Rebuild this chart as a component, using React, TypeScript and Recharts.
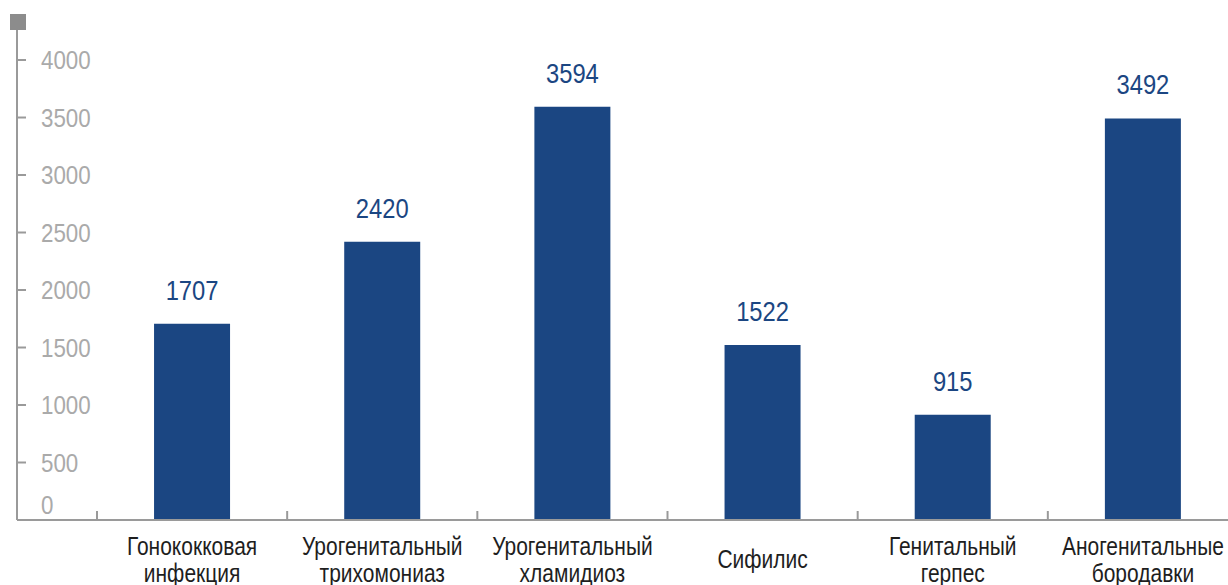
import React from "react";
import { Bar, BarChart, LabelList, XAxis, YAxis } from "recharts";

const categories = [
  "Гонококковая\nинфекция",
  "Урогенитальный\nтрихомониаз",
  "Урогенитальный\nхламидиоз",
  "Сифилис",
  "Генитальный\nгерпес",
  "Аногенитальные\nбородавки",
];
const cases = [1707, 2420, 3594, 1522, 915, 3492];
const yTicks = [0, 500, 1000, 1500, 2000, 2500, 3000, 3500, 4000];

const data = categories.map((name, i) => ({ name, value: cases[i] }));

// no narrow face installed: squeeze Liberation Sans horizontally instead
const FONT = "'Liberation Sans', Arial, sans-serif";
const BAR = "#1b4682";
const AXIS = "#9a9a9a";

function YTick(props: any) {
  const { x, y, payload } = props;
  const isZero = payload.value === 0;
  const ty = isZero ? y - 15 : y;
  return (
    <g>
      {!isZero && <line x1={x} x2={x + 9} y1={y} y2={y} stroke={AXIS} strokeWidth={2} />}
      <text
        transform={`translate(${x + 24},${ty}) scale(0.86,1)`}
        dy="0.36em"
        fill="#aaaaaa"
        fontSize={26}
        fontFamily={FONT}
        textAnchor="start"
      >
        {payload.value}
      </text>
    </g>
  );
}

function XTick(props: any) {
  const { x, y, payload } = props;
  const half = payload.offset ?? 95;
  const lines = String(payload.value).split("\n");
  const first = lines.length > 1 ? 35 : 48;
  return (
    <g>
      <line x1={x - half} x2={x - half} y1={y} y2={y - 9} stroke={AXIS} strokeWidth={2} />
      <text
        transform={`translate(${x},${y + first}) scale(0.84,1)`}
        fill="#1e1e1e"
        fontSize={25}
        fontFamily={FONT}
        textAnchor="middle"
      >
        {lines.map((ln, i) => (
          <tspan key={i} x={0} y={i * 27}>
            {ln}
          </tspan>
        ))}
      </text>
    </g>
  );
}

function ValueLabel(props: any) {
  const { x, y, width, value } = props;
  return (
    <text
      transform={`translate(${x + width / 2},${y - 24}) scale(0.88,1)`}
      fill={BAR}
      fontSize={27}
      fontFamily={FONT}
      textAnchor="middle"
    >
      {value}
    </text>
  );
}

export default function App() {
  return (
    <div
      style={{
        position: "absolute",
        left: 0,
        top: 0,
        width: 1228,
        height: 585,
        overflow: "hidden",
        background: "#fff",
      }}
    >
      <div
        style={{ position: "absolute", left: 10, top: 14, width: 16, height: 16, background: "#8c8c8c" }}
      />
      <BarChart
        width={1238}
        height={585}
        data={data}
        margin={{ top: 30, right: 0, bottom: 0, left: 17 }}
        barCategoryGap="30%"
      >
        <XAxis
          dataKey="name"
          interval={0}
          height={65}
          padding={{ left: 80, right: 0 }}
          axisLine={{ stroke: AXIS, strokeWidth: 2 }}
          tickLine={false}
          tickSize={0}
          tickMargin={0}
          tick={<XTick />}
        />
        <YAxis
          width={1}
          mirror
          domain={[0, 4261]}
          ticks={yTicks}
          interval={0}
          allowDataOverflow
          axisLine={{ stroke: AXIS, strokeWidth: 2 }}
          tickLine={false}
          tickSize={0}
          tickMargin={0}
          tick={<YTick />}
        />
        <Bar dataKey="value" fill={BAR} isAnimationActive={false}>
          <LabelList dataKey="value" content={<ValueLabel />} />
        </Bar>
      </BarChart>
    </div>
  );
}
